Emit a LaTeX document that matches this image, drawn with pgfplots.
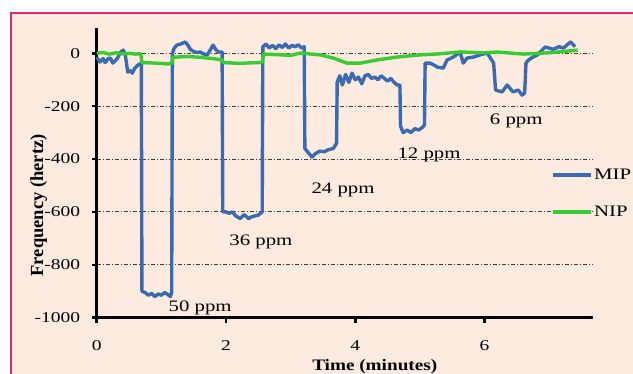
\documentclass[border=0pt]{standalone}
\usepackage{pgfplots}
\pgfplotsset{compat=1.18}
\usepackage{fontspec}
\setmainfont{Liberation Serif}
\definecolor{peach}{RGB}{252,235,222}
\definecolor{framecol}{RGB}{215,45,110}
\definecolor{mipblue}{RGB}{58,106,176}
\definecolor{nipgreen}{RGB}{55,205,50}
\definecolor{gridc}{RGB}{70,60,55}
\newcommand\W[1]{\scalebox{1.3}[1]{#1}}
\begin{document}
\begin{tikzpicture}
\useasboundingbox (0,0) rectangle (633pt,374pt);
\fill[peach] (11pt,-20pt) rectangle (660pt,361pt);
\draw[framecol, line width=2.2pt] (11pt,-20pt) rectangle (660pt,361pt);
\begin{axis}[
  at={(96.7pt,56.3pt)}, anchor=south west,
  scale only axis, width=496.5pt, height=289.5pt,
  xmin=0, xmax=7.68, ymin=-1000, ymax=95,
  axis lines=left,
  every outer x axis line/.append style={-, line width=3pt, black},
  every outer y axis line/.append style={-, line width=3pt, black},
  axis line style={-, line width=3pt, black},
  tick align=outside, major tick length=5pt,
  every tick/.style={line width=2.5pt, black},
  xtick={0,2,4,6}, xticklabels={\W{0},\W{2},\W{4},\W{6}},
  ytick={-1000,-800,-600,-400,-200,0},
  yticklabels={\W{-1000},\W{-800},\W{-600},\W{-400},\W{-200},\W{0}},
  ticklabel style={font=\fontsize{15}{17}\selectfont},
  yticklabel style={xshift=-8pt},
  xticklabel style={yshift=-14pt},
  ymajorgrids,
  major grid style={gridc, line width=0.9pt, dash pattern=on 4pt off 2pt on 1pt off 2pt},
  xlabel={\scalebox{1.2}[1]{\textbf{Time (minutes)}}},
  ylabel={\textbf{Frequency (hertz)}},
  xlabel style={font=\fontsize{16}{18}\selectfont, at={(axis description cs:0.56,-0.17)}, anchor=center},
  ylabel style={font=\fontsize{18.5}{20}\selectfont, at={(axis description cs:-0.117,0.388)}, anchor=center, rotate=0},
  legend style={at={(0.915,0.429)}, anchor=west, draw=none, fill=none,
    inner sep=0pt, row sep=22pt, font=\fontsize{16}{18}\selectfont,
    nodes={inner sep=1.5pt}},
  legend cell align=left,
  legend image code/.code={\draw[#1] (0pt,0pt) -- (38pt,0pt);},
  clip=false,
]
\addplot[mipblue, line width=3.4pt, line join=round] coordinates {
(0.00,-15) (0.05,-33) (0.10,-20) (0.13,-35) (0.18,-20) (0.21,-18) (0.25,-37)
(0.30,-25) (0.33,-15) (0.37,5) (0.41,12) (0.44,-2) (0.48,-71) (0.52,-65)
(0.55,-75) (0.59,-56) (0.64,-44) (0.67,-40) (0.69,-40)
(0.70,-900) (0.75,-905) (0.80,-915) (0.85,-908) (0.90,-920) (0.95,-910)
(1.00,-915) (1.05,-905) (1.10,-912) (1.14,-920) (1.16,-905)
(1.17,0) (1.20,20) (1.24,31) (1.30,35) (1.37,43) (1.41,31) (1.45,15)
(1.49,8) (1.55,3) (1.60,5) (1.65,-2) (1.71,-6) (1.75,10) (1.80,31)
(1.84,15) (1.88,5) (1.94,5)
(1.95,-600) (2.00,-600) (2.05,-605) (2.10,-600) (2.15,-615) (2.22,-625)
(2.28,-610) (2.35,-625) (2.40,-618) (2.50,-612) (2.56,-600)
(2.57,25) (2.62,35) (2.67,20) (2.72,30) (2.77,18) (2.82,32) (2.87,22)
(2.92,35) (2.97,20) (3.02,30) (3.07,25) (3.12,32) (3.17,20) (3.21,25)
(3.22,-360) (3.27,-375) (3.33,-392) (3.38,-380) (3.45,-370) (3.52,-372)
(3.58,-365) (3.66,-360) (3.71,-340)
(3.72,-110) (3.76,-85) (3.80,-120) (3.85,-80) (3.90,-110) (3.95,-75)
(4.00,-100) (4.05,-90) (4.10,-115) (4.15,-85) (4.20,-80) (4.25,-95)
(4.30,-90) (4.35,-100) (4.40,-85) (4.45,-95) (4.50,-105) (4.55,-95)
(4.60,-110) (4.65,-120) (4.69,-120)
(4.70,-275) (4.74,-300) (4.80,-290) (4.86,-300) (4.92,-285) (4.98,-290)
(5.04,-280) (5.07,-270)
(5.08,-37) (5.16,-37) (5.27,-52) (5.36,-56) (5.42,-25) (5.52,-14) (5.62,5)
(5.67,-37) (5.73,-18) (5.83,-14) (5.93,-6) (6.04,1) (6.09,-18) (6.14,-37)
(6.17,-139) (6.27,-146) (6.35,-120) (6.44,-146) (6.52,-139) (6.58,-158)
(6.62,-150)
(6.64,-37) (6.68,-25) (6.75,-14) (6.82,-6) (6.89,12) (6.94,24) (7.06,15)
(7.15,25) (7.22,20) (7.33,43) (7.40,25)
};
\addlegendentry{\W{MIP}}
\addplot[nipgreen, line width=3.4pt, line join=round] coordinates {
(0.00,0) (0.10,3) (0.20,-3) (0.30,2) (0.40,-2) (0.50,0) (0.60,-3) (0.68,-1)
(0.70,-35) (0.90,-37) (1.10,-40) (1.16,-38)
(1.18,-15) (1.40,-12) (1.60,-15) (1.80,-20) (1.94,-25)
(1.96,-35) (2.20,-38) (2.40,-36) (2.56,-35)
(2.58,-3) (2.80,-5) (3.00,-8) (3.15,1) (3.46,-6) (3.66,-18) (3.87,-37)
(4.08,-37) (4.34,-25) (4.65,-14) (5.00,-6) (5.30,-2) (5.62,5) (6.00,2)
(6.20,5) (6.60,-3) (7.00,2) (7.44,12)
};
\addlegendentry{\W{NIP}}
\node[font=\fontsize{16}{18}\selectfont] at (axis cs:1.60,-963) {\W{50 ppm}};
\node[font=\fontsize{16}{18}\selectfont] at (axis cs:2.54,-714) {\W{36 ppm}};
\node[font=\fontsize{16}{18}\selectfont] at (axis cs:3.81,-517) {\W{24 ppm}};
\node[font=\fontsize{16}{18}\selectfont] at (axis cs:5.14,-385) {\W{12 ppm}};
\node[font=\fontsize{16}{18}\selectfont] at (axis cs:6.49,-256) {\W{6 ppm}};
\end{axis}
\end{tikzpicture}
\end{document}
